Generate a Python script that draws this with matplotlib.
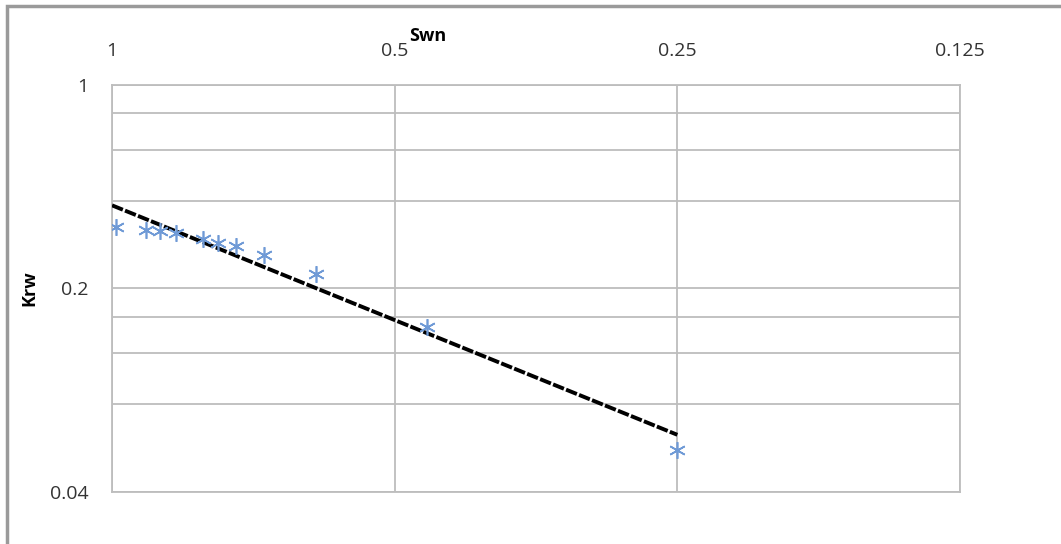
import numpy as np
import matplotlib.pyplot as plt
from matplotlib.ticker import FixedLocator, NullFormatter, FixedFormatter
from matplotlib.patches import Rectangle

plt.rcParams['font.family'] = ['Open Sans', 'DejaVu Sans']

swn = [0.99, 0.92, 0.889, 0.855, 0.80, 0.771, 0.738, 0.689, 0.607, 0.462, 0.25]
krw = [0.324, 0.317, 0.314, 0.309, 0.295, 0.286, 0.279, 0.260, 0.2235, 0.147, 0.0558]

# power trendline coefficients: krw = a * swn^b
trend_a = 0.386
trend_b = 1.309
trend_x = [1.0, 0.25]

x_ticks = [1, 0.5, 0.25, 0.125]
x_labels = ['1', '0.5', '0.25', '0.125']
y_ticks = [0.04, 0.2, 1]
y_labels = ['0.04', '0.2', '1']
y_minor = [0.08, 0.12, 0.16, 0.4, 0.6, 0.8]

fig = plt.figure(figsize=(10.61, 5.44), dpi=100)
ax = fig.add_axes([0.1056, 0.0956, 0.7992, 0.7482])

ax.set_xscale('log', base=2)
ax.set_yscale('log', base=5)
ax.set_xlim(1, 0.125)
ax.set_ylim(0.04, 1)

grid_c = '#bdbdbd'
ax.xaxis.set_major_locator(FixedLocator(x_ticks))
ax.xaxis.set_major_formatter(FixedFormatter(x_labels))
ax.xaxis.set_minor_locator(FixedLocator([]))
ax.xaxis.set_minor_formatter(NullFormatter())
ax.yaxis.set_major_locator(FixedLocator(y_ticks))
ax.yaxis.set_major_formatter(FixedFormatter(y_labels))
ax.yaxis.set_minor_locator(FixedLocator(y_minor))
ax.yaxis.set_minor_formatter(NullFormatter())

ax.grid(True, which='major', color=grid_c, lw=1.3)
ax.grid(True, which='minor', axis='y', color=grid_c, lw=1.3)
ax.set_axisbelow(True)
for s in ax.spines.values():
    s.set_color(grid_c)
    s.set_linewidth(1.3)

ax.xaxis.tick_top()
ax.xaxis.set_label_position('top')
ax.tick_params(which='both', length=0, labelsize=14, colors='#333333')
ax.tick_params(axis='x', pad=18)
ax.tick_params(axis='y', pad=17)

ax.set_xlabel('Swn', fontsize=13, fontweight='bold', labelpad=1)
ax.set_ylabel('Krw', fontsize=13, fontweight='bold', labelpad=8)
ax.xaxis.label.set_x(0.372)

tx = np.array(trend_x)
ax.plot(tx, trend_a * tx ** trend_b, color='black', lw=2.8, ls=(0, (3, 0.6)), zorder=3)
ax.plot(swn, krw, ls='none', marker=(6, 2, 0), ms=12, mec='#6f9ad6', mew=1.2, zorder=4)

# chart area border (partially visible in the screenshot)
fig.patches.append(Rectangle((7 / 1061, -0.1), 1.2, 1.1 - 6 / 544, transform=fig.transFigure,
                             fill=False, ec='#9a9a9a', lw=2.5))

fig.savefig('out.png', dpi=100)
